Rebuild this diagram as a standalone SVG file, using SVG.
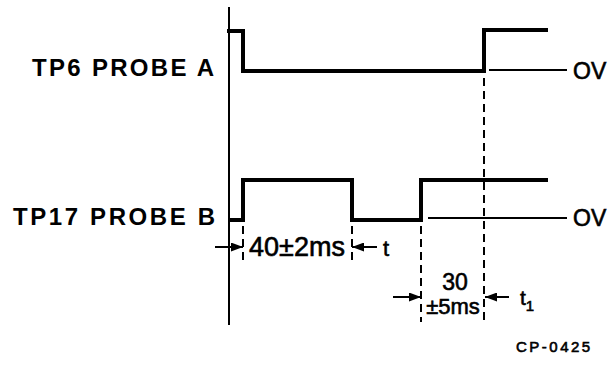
<svg xmlns="http://www.w3.org/2000/svg" width="611" height="369" viewBox="0 0 611 369">
<defs>
<style>
.sig{fill:none;stroke:#000;stroke-width:4;stroke-linejoin:miter;stroke-linecap:square}
.thin{fill:none;stroke:#000;stroke-width:2}
.dash{fill:none;stroke:#000;stroke-width:2;stroke-dasharray:8 5}
.lbl{font-family:"Liberation Sans",Arial,sans-serif;font-weight:bold;fill:#000}
.dim{font-family:"Liberation Sans",Arial,sans-serif;fill:#000;stroke:#000;stroke-width:0.6}
</style>
<marker id="ah" viewBox="0 0 12 9" refX="12" refY="4.5" markerWidth="12" markerHeight="9" markerUnits="userSpaceOnUse" orient="auto">
<path d="M0,0 L12,4.5 L0,9 Z" fill="#000"/>
</marker>
</defs>
<rect width="611" height="369" fill="#fff"/>
<g id="axis"><path class="thin" d="M229,7 V325"/></g>
<g id="probeA">
<text class="lbl" x="32" y="76" font-size="24" letter-spacing="2.3">TP6 PROBE A</text>
<path class="sig" d="M229,31 H243 V71 H484 V30 H546"/>
<path class="thin" d="M489,70 H567"/>
<text class="dim" x="573" y="79" font-size="23">OV</text>
</g>
<g id="probeB">
<text class="lbl" x="13" y="225" font-size="24" letter-spacing="2.6">TP17 PROBE B</text>
<path class="sig" d="M231,220 H243 V180 H352 V220 H421 V180 H546"/>
<path class="thin" d="M428,218 H567"/>
<text class="dim" x="573" y="226" font-size="23">OV</text>
</g>
<g id="connectors">
<path class="dash" d="M243,226 V265"/>
<path class="dash" d="M352,226 V265"/>
<path class="dash" d="M421,226 V322"/>
<path class="dash" d="M484,78 V322"/>
<path class="thin" d="M215,247 H243" marker-end="url(#ah)"/>
<path class="thin" d="M377,247 H352" marker-end="url(#ah)"/>
<path class="thin" d="M393,297 H421" marker-end="url(#ah)"/>
<path class="thin" d="M509,297 H485" marker-end="url(#ah)"/>
</g>
<g id="labels">
<text class="dim" x="297" y="256" font-size="27" text-anchor="middle">40±2ms</text>
<text class="dim" x="383" y="256" font-size="22">t</text>
<text class="dim" x="455" y="290" font-size="23" text-anchor="middle">30</text>
<text class="dim" x="453" y="314" font-size="22" text-anchor="middle">±5ms</text>
<text class="dim" x="520" y="305" font-size="21">t<tspan font-size="15" dy="6">1</tspan></text>
<text class="dim" x="516" y="352" font-size="15" letter-spacing="2.5" stroke-width="0.3">CP-0425</text>
</g>
</svg>
